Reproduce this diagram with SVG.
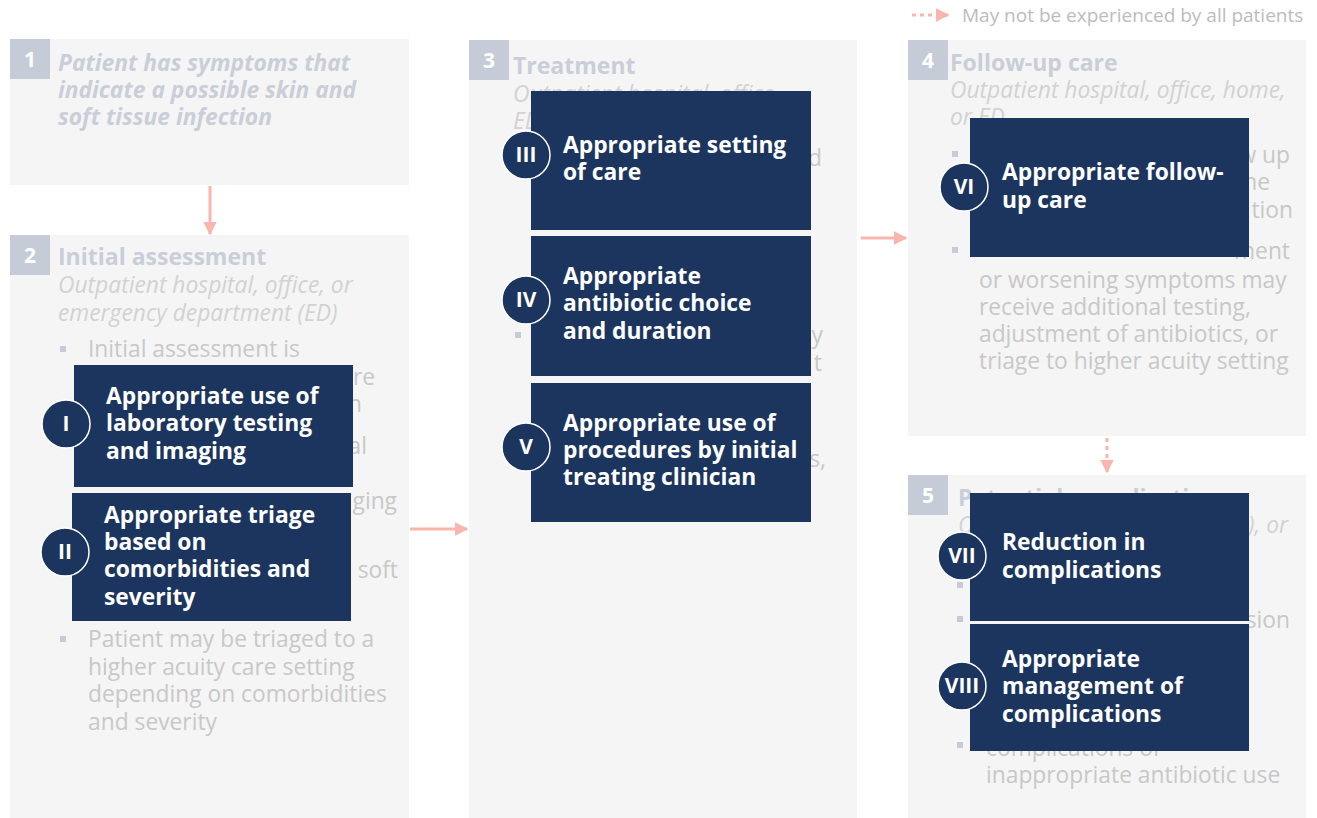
<svg xmlns="http://www.w3.org/2000/svg" width="1317" height="818" viewBox="0 0 1317 818">
<style>
.panel{fill:#f5f5f5}
.num{fill:#c6ccd7}
.numt{font-family:"Open Sans",sans-serif;font-weight:700;font-size:21px;fill:#ffffff;text-anchor:middle}
.ttl{font-family:"Open Sans",sans-serif;font-weight:700;font-size:23px;fill:#c9ced9}
.ttli{font-family:"Open Sans",sans-serif;font-weight:700;font-style:italic;font-size:22.8px;fill:#c9ced9}
.sub{font-family:"Open Sans",sans-serif;font-style:italic;font-size:22.8px;fill:#d2d2d2}
.body{font-family:"Open Sans",sans-serif;font-size:22.8px;fill:#c8c8c8}
.end{text-anchor:end}
.bul{fill:#c6ccd7}
.box{fill:#1c355e}
.bt{font-family:"Open Sans",sans-serif;font-weight:700;font-size:22.8px;fill:#ffffff}
.circ{fill:#1c355e;stroke:#ffffff;stroke-width:1.5}
.ct{font-family:"Open Sans",sans-serif;font-weight:700;font-size:21px;fill:#ffffff;text-anchor:middle}
.arr{stroke:#f9b5ae;stroke-width:3;fill:none}
.dot{stroke:#f9b5ae;stroke-width:3;fill:none;stroke-dasharray:4 4}
.leg{font-family:"Open Sans",sans-serif;font-size:19px;fill:#bcbcbc}
</style>
<defs>
<marker id="ah" viewBox="0 0 10 10" refX="9" refY="5" markerWidth="4.5" markerHeight="4.5" orient="auto" markerUnits="strokeWidth">
<path d="M0,0 L10,5 L0,10 z" fill="#f9b5ae"/>
</marker>
</defs>

<g id="legend">
<line class="dot" x1="912" y1="15" x2="948" y2="15" marker-end="url(#ah)"/>
<text class="leg" x="962" y="22">May not be experienced by all patients</text>
</g>

<g id="panel1">
<rect class="panel" x="10" y="39" width="399" height="146"/>
<rect class="num" x="10" y="39" width="40" height="40"/>
<text class="numt" x="30" y="67">1</text>
<text class="ttli" x="58" y="71">Patient has symptoms that<tspan x="58" dy="27">indicate a possible skin and</tspan><tspan x="58" dy="27">soft tissue infection</tspan></text>
</g>

<g id="panel2">
<rect class="panel" x="10" y="235" width="399" height="583"/>
<rect class="num" x="10" y="235" width="40" height="40"/>
<text class="numt" x="30" y="263">2</text>
<text class="ttl" x="58" y="265">Initial assessment</text>
<text class="sub" x="58" y="293">Outpatient hospital, office, or<tspan x="58" dy="28">emergency department (ED)</tspan></text>
<rect class="bul" x="60" y="346" width="6" height="6"/>
<text class="body" x="88" y="357">Initial assessment is</text>
<text class="body end" x="375" y="385">re</text>
<text class="body end" x="362" y="412">n</text>
<text class="body end" x="367" y="454">al</text>
<text class="body end" x="397" y="509">ging</text>
<text class="body end" x="398" y="578">soft</text>
<rect class="bul" x="60" y="636" width="6" height="6"/>
<text class="body" x="88" y="647">Patient may be triaged to a<tspan x="88" dy="28">higher acuity care setting</tspan><tspan x="88" dy="27">depending on comorbidities</tspan><tspan x="88" dy="28">and severity</tspan></text>
</g>

<g id="panel3">
<rect class="panel" x="469" y="40" width="388" height="778"/>
<rect class="num" x="469" y="40" width="40" height="40"/>
<text class="numt" x="489" y="68">3</text>
<text class="ttl" x="513" y="74">Treatment</text>
<text class="sub" x="513" y="102">Outpatient hospital, office,<tspan x="513" dy="27">ED</tspan></text>
<text class="body end" x="822" y="166">d</text>
<rect class="bul" x="515" y="332" width="6" height="6"/>
<text class="body end" x="823" y="343">y<tspan x="822" dy="28">t</tspan></text>
<text class="body end" x="826" y="467">s,</text>
</g>

<g id="panel4">
<rect class="panel" x="908" y="40" width="398" height="396"/>
<rect class="num" x="908" y="40" width="40" height="40"/>
<text class="numt" x="928" y="68">4</text>
<text class="ttl" x="950" y="71">Follow-up care</text>
<text class="sub" x="950" y="98">Outpatient hospital, office, home,<tspan x="950" dy="27">or ED</tspan></text>
<rect class="bul" x="952" y="151" width="6" height="6"/>
<text class="body end" x="1290" y="163">w up<tspan x="1270" dy="27">ne</tspan><tspan x="1293" dy="28">tion</tspan></text>
<rect class="bul" x="952" y="247" width="6" height="6"/>
<text class="body end" x="1290" y="259">ment</text>
<text class="body" x="979" y="288">or worsening symptoms may<tspan x="979" dy="27">receive additional testing,</tspan><tspan x="979" dy="27">adjustment of antibiotics, or</tspan><tspan x="979" dy="27">triage to higher acuity setting</tspan></text>
</g>

<g id="panel5">
<rect class="panel" x="908" y="475" width="398" height="343"/>
<rect class="num" x="908" y="475" width="40" height="40"/>
<text class="numt" x="928" y="503">5</text>
<text class="ttl" x="958" y="506">Potential complications</text>
<text class="sub" x="958" y="533">O</text>
<text class="sub end" x="1288" y="533">(ED), or</text>
<rect class="bul" x="957" y="582" width="6" height="6"/>
<rect class="bul" x="957" y="616" width="6" height="6"/>
<text class="body end" x="1290" y="628">sion</text>
<rect class="bul" x="957" y="742" width="6" height="6"/>
<text class="body" x="986" y="756">complications of<tspan x="986" dy="27">inappropriate antibiotic use</tspan></text>
</g>

<g id="connectors">
<line class="arr" x1="210" y1="186" x2="210" y2="234" marker-end="url(#ah)"/>
<line class="arr" x1="410" y1="529" x2="467" y2="529" marker-end="url(#ah)"/>
<line class="arr" x1="861" y1="238" x2="906" y2="238" marker-end="url(#ah)"/>
<line class="dot" x1="1107" y1="438" x2="1107" y2="472" marker-end="url(#ah)"/>
</g>

<g id="m1">
<rect class="box" x="74" y="365" width="279" height="122"/>
<circle class="circ" cx="66" cy="424" r="24"/>
<text class="ct" x="66" y="431">I</text>
<text class="bt" x="106" y="404">Appropriate use of<tspan x="106" dy="27">laboratory testing</tspan><tspan x="106" dy="28">and imaging</tspan></text>
</g>
<g id="m2">
<rect class="box" x="72" y="493" width="279" height="128"/>
<circle class="circ" cx="65" cy="552" r="24"/>
<text class="ct" x="65" y="559">II</text>
<text class="bt" x="104" y="523">Appropriate triage<tspan x="104" dy="27">based on</tspan><tspan x="104" dy="27">comorbidities and</tspan><tspan x="104" dy="28">severity</tspan></text>
</g>
<g id="m3">
<rect class="box" x="531" y="91" width="280" height="139"/>
<circle class="circ" cx="526" cy="155" r="24"/>
<text class="ct" x="526" y="162">III</text>
<text class="bt" x="563" y="153">Appropriate setting<tspan x="563" dy="27">of care</tspan></text>
</g>
<g id="m4">
<rect class="box" x="531" y="236" width="280" height="140"/>
<circle class="circ" cx="526" cy="300" r="24"/>
<text class="ct" x="526" y="307">IV</text>
<text class="bt" x="563" y="284">Appropriate<tspan x="563" dy="27">antibiotic choice</tspan><tspan x="563" dy="28">and duration</tspan></text>
</g>
<g id="m5">
<rect class="box" x="531" y="383" width="280" height="139"/>
<circle class="circ" cx="526" cy="447" r="24"/>
<text class="ct" x="526" y="454">V</text>
<text class="bt" x="563" y="431">Appropriate use of<tspan x="563" dy="27">procedures by initial</tspan><tspan x="563" dy="27">treating clinician</tspan></text>
</g>
<g id="m6">
<rect class="box" x="970" y="118" width="279" height="139"/>
<circle class="circ" cx="964" cy="187" r="24"/>
<text class="ct" x="964" y="194">VI</text>
<text class="bt" x="1002" y="180">Appropriate follow-<tspan x="1002" dy="28">up care</tspan></text>
</g>
<g id="m7">
<rect class="box" x="970" y="493" width="279" height="128"/>
<circle class="circ" cx="962" cy="556" r="24"/>
<text class="ct" x="962" y="563">VII</text>
<text class="bt" x="1002" y="550">Reduction in<tspan x="1002" dy="28">complications</tspan></text>
</g>
<g id="m8">
<rect class="box" x="970" y="624" width="279" height="127"/>
<circle class="circ" cx="962" cy="686" r="24"/>
<text class="ct" x="962" y="693">VIII</text>
<text class="bt" x="1002" y="667">Appropriate<tspan x="1002" dy="27">management of</tspan><tspan x="1002" dy="28">complications</tspan></text>
</g>
</svg>
